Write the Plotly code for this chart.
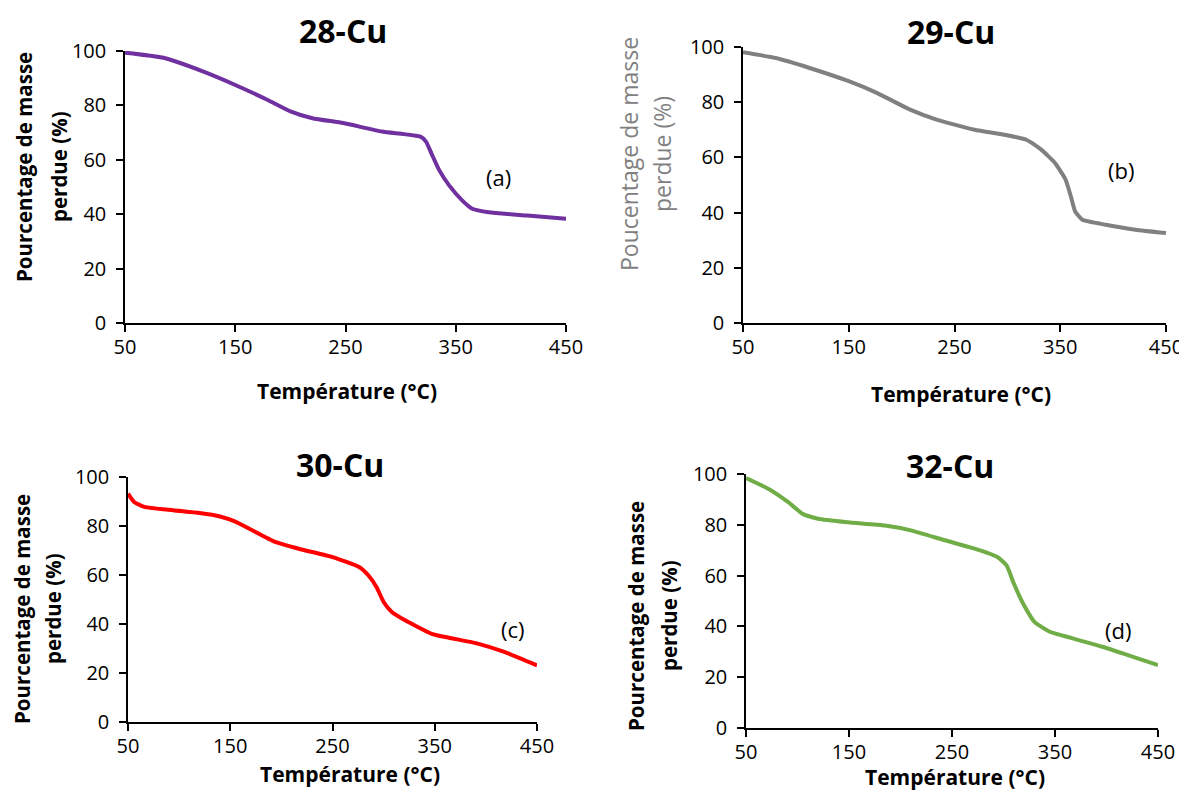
import plotly.graph_objects as go

# the page body has an 8px default margin; the figure is shrunk and shifted to compensate
OFF = 8
W, H = 1187 - OFF, 793 - OFF

# ---- data ----
temp_a = [50, 85, 120, 149, 179, 200, 220, 248, 283, 318, 323, 328, 335, 344, 356, 365, 380, 415, 450]
mass_a = [99.4, 97.5, 92.6, 87.7, 82.1, 77.8, 75.3, 73.5, 70.4, 68.5, 66.7, 62.3, 56.2, 50.6, 45, 42, 40.7, 39.5, 38.3]

temp_b = [50, 81, 113, 150, 177, 208, 233, 269, 297, 318, 332, 345, 355, 360, 364, 371, 393, 421, 450]
mass_b = [98.1, 96, 92.4, 87.6, 83.3, 77.3, 73.7, 70, 68.2, 66.4, 62.8, 58, 52, 45.9, 40.5, 37.4, 35.6, 33.8, 32.6]

temp_c = [50, 56, 66, 94, 120, 140, 155, 170, 194, 217, 250, 276, 285, 293, 300, 308, 321, 347, 365, 392, 418, 450]
mass_c = [93.2, 89.8, 87.8, 86.4, 85.3, 83.9, 81.8, 78.6, 73.5, 70.7, 67.3, 63.3, 59.9, 55.1, 49, 44.9, 41.5, 36, 34.3, 32, 28.6, 23.1]

temp_d = [50, 72, 91, 105, 120, 149, 185, 210, 243, 272, 294, 303, 310, 319, 330, 345, 367, 396, 425, 450]
mass_d = [98.4, 94.1, 88.9, 84.3, 82.4, 81, 79.7, 77.8, 73.9, 70.6, 67.3, 64, 56.9, 49, 41.8, 37.9, 35.3, 32, 28.1, 24.8]

titles = ["28-Cu", "29-Cu", "30-Cu", "32-Cu"]
labels = ["(a)", "(b)", "(c)", "(d)"]
label_x = [389, 407, 427, 411]
label_y = [53.5, 55.5, 38, 38.5]
colors = ["#7030A0", "#808080", "#FF0000", "#70AD47"]
x_ticks = [50, 150, 250, 350, 450]
y_ticks = [0, 20, 40, 60, 80, 100]
xlabel = "Température (°C)"
ylabel_line1 = ["Pourcentage de masse", "Poucentage de masse", "Pourcentage de masse", "Pourcentage de masse"]
ylabel_line2 = ["perdue (%)", "perdue (%)", "perdue (%)", "perdue (%)"]

series = [(temp_a, mass_a), (temp_b, mass_b), (temp_c, mass_c), (temp_d, mass_d)]

# pixel layout in the reference: plot boxes (x0, x1, ytop, ybottom)
boxes = [(125, 566, 51, 323), (743, 1166, 47, 323), (128, 537, 477, 722), (746, 1158, 474, 728)]
title_xy = [(343, 31), (951, 32), (340, 464), (950, 465)]
xtitle_xy = [(347, 391), (961, 394), (350, 774), (955, 777)]
ytitle_x = [(24, 59), (629, 662), (22, 53), (636, 669)]
ytitle_y = [167, 154, 609, 616]
ytitle_bold = [True, False, True, True]

FONT = "Open Sans"

fig = go.Figure()
layout = dict(width=W, height=H, margin=dict(l=0, r=0, t=0, b=0, autoexpand=False),
              paper_bgcolor="white", plot_bgcolor="white", showlegend=False)
annotations = []


def px_x(x):
    return (x - OFF) / W


def px_y(y):
    return 1 - (y - OFF) / H


for i, ((tx, ty), col, box) in enumerate(zip(series, colors, boxes)):
    n = "" if i == 0 else str(i + 1)
    fig.add_trace(go.Scatter(x=tx, y=ty, mode="lines",
                             line=dict(color=col, width=4, shape="spline", smoothing=0.5),
                             xaxis="x" + n, yaxis="y" + n, hoverinfo="skip"))
    x0, x1, yt, yb = box
    layout["xaxis" + n] = dict(domain=[px_x(x0), px_x(x1)], range=[50, 450], tickvals=x_ticks,
                               showline=True, linecolor="black", linewidth=1.5, ticks="outside", ticklen=7,
                               tickcolor="black", tickwidth=1.5, showgrid=False, zeroline=False,
                               ticklabelstandoff=-2,
                               tickfont=dict(family=FONT, size=20, color="black"),
                               anchor="y" + n, fixedrange=True)
    layout["yaxis" + n] = dict(domain=[px_y(yb), px_y(yt)], range=[0, 100], tickvals=y_ticks,
                               showline=True, linecolor="black", linewidth=1.5, ticks="outside", ticklen=7,
                               tickcolor="black", tickwidth=1.5, showgrid=False, zeroline=False,
                               ticklabelstandoff=6,
                               tickfont=dict(family=FONT, size=20, color="black"),
                               anchor="x" + n, fixedrange=True)
    annotations.append(dict(text="<b>" + titles[i] + "</b>", x=px_x(title_xy[i][0]), y=px_y(title_xy[i][1]),
                            xref="paper", yref="paper", showarrow=False, xanchor="center", yanchor="middle",
                            font=dict(family=FONT, size=32, color="black")))
    annotations.append(dict(text="<b>" + xlabel + "</b>", x=px_x(xtitle_xy[i][0]), y=px_y(xtitle_xy[i][1]),
                            xref="paper", yref="paper", showarrow=False, xanchor="center", yanchor="middle",
                            font=dict(family=FONT, size=21, color="black")))
    for line_text, lx in zip((ylabel_line1[i], ylabel_line2[i]), ytitle_x[i]):
        txt = "<b>" + line_text + "</b>" if ytitle_bold[i] else line_text
        annotations.append(dict(text=txt, x=px_x(lx), y=px_y(ytitle_y[i]),
                                xref="paper", yref="paper", showarrow=False, xanchor="center", yanchor="middle",
                                textangle=-90,
                                font=dict(family=FONT, size=20.5 if ytitle_bold[i] else 23,
                                          color="black" if ytitle_bold[i] else "#808080")))
    annotations.append(dict(text=labels[i], x=label_x[i], y=label_y[i], xref="x" + n, yref="y" + n,
                            showarrow=False, font=dict(family=FONT, size=22, color="black")))

layout["annotations"] = annotations
fig.update_layout(**layout)
fig.write_html("out.html")
